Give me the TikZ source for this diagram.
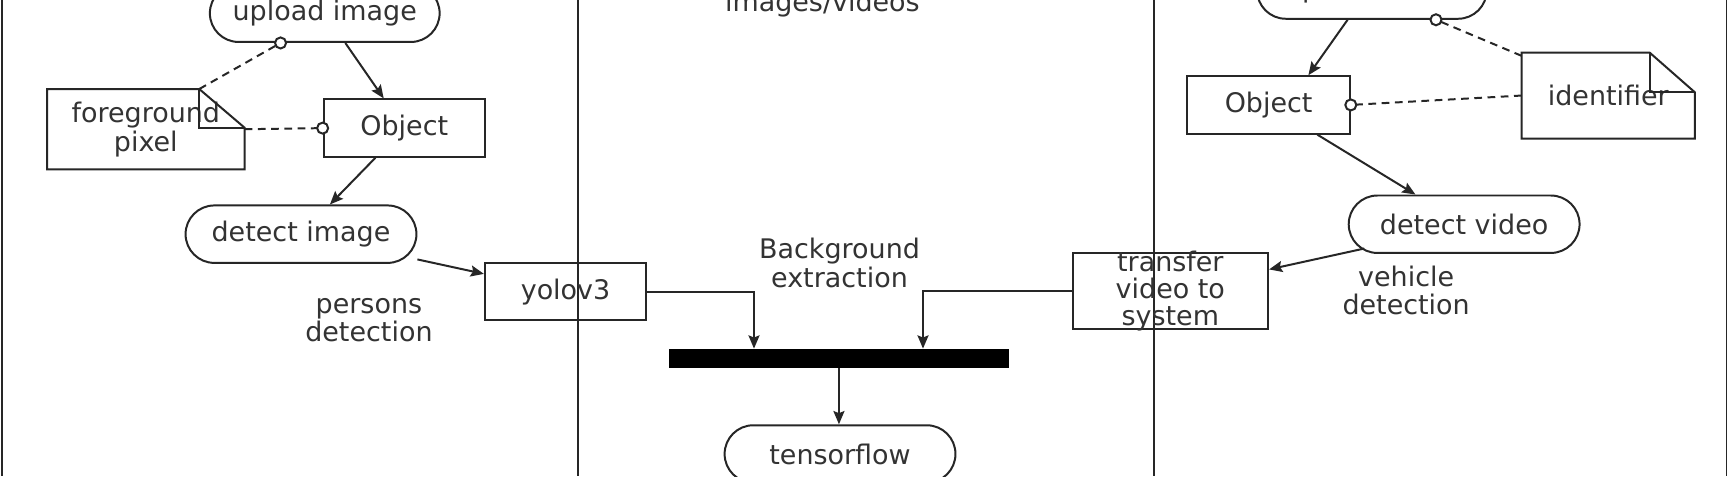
\documentclass[tikz,border=0pt]{standalone}
\usepackage{fontspec}
\setmainfont{DejaVu Sans}
\usetikzlibrary{arrows.meta,calc}
\begin{document}
\begin{tikzpicture}[x=0.5pt,y=-0.5pt,
  font=\fontsize{12.2}{12.5}\selectfont,
  every node/.style={text=black!80},
  ln/.style={line width=0.9pt, draw=black!85},
  term/.style={ln, rectangle, rounded corners=13pt, minimum width=104pt, minimum height=26pt, inner sep=0pt},
  act/.style={ln, rectangle, minimum width=73pt, minimum height=26pt, inner sep=0pt},
  txt/.style={align=center, inner sep=0pt},
  arr/.style={ln, -{Stealth[length=6pt,width=5pt,inset=1pt]}},
  dsh/.style={ln, dash pattern=on 3.5pt off 2.5pt},
  dotc/.style={circle, ln, fill=white, minimum size=5pt, inner sep=0pt},
  lane/.style={line width=0.9pt, draw=black!85},
]
\useasboundingbox (0,0) rectangle (1568,431);
\fill[white] (0,0) rectangle (1568,431);
% swimlane lines
\draw[lane] (2,0) -- (2,431);
\draw[lane] (523,0) -- (523,431);
\draw[lane] (1045,0) -- (1045,431);
\draw[lane] (1563,0) -- (1563,431);

% left lane
\node[term] (up1) at (294,12) {upload image};
\node[txt, font=\fontsize{12.2}{13}\selectfont, minimum width=89pt, minimum height=36pt] (n1) at (132,117) {foreground\\pixel};
\draw[ln] (n1.north west) -- ($(n1.north east)+(-41,0)$) -- ($(n1.north east)+(0,35)$) -- (n1.south east) -- (n1.south west) -- cycle;
\draw[ln] ($(n1.north east)+(-41,0)$) -- ($(n1.north east)+(-41,35)$) -- ($(n1.north east)+(0,35)$);
\node[act] (o1) at (366,116) {Object};
\node[term, minimum width=104.5pt] (d1) at (272.5,212) {detect image};
\node[act] (yo) at (512,264) {yolov3};
\node[txt] (pd) at (334,290) {persons\\detection};

% middle lane
\node[anchor=base, inner sep=0pt] (iv) at (744.5,10.5) {images/videos};
\node[txt, font=\fontsize{12.2}{13}\selectfont] (be) at (760,238) {Background\\extraction};
\node[fill=black, draw=black, minimum width=153.5pt, minimum height=8.5pt, inner sep=0pt] (bar) at (759.5,324.5) {};
\node[term, minimum width=104.5pt] (tf) at (760.5,411) {tensorflow};

% right lane
\node[term] (up2) at (1242,-9) {upload video};
\node[act, minimum width=73.5pt] (o2) at (1148.5,95) {Object};
\node[txt, minimum width=78pt, minimum height=38.5pt] (n2) at (1456,86.5) {identifier};
\draw[ln] (n2.north west) -- ($(n2.north east)+(-41,0)$) -- ($(n2.north east)+(0,36)$) -- (n2.south east) -- (n2.south west) -- cycle;
\draw[ln] ($(n2.north east)+(-41,0)$) -- ($(n2.north east)+(-41,36)$) -- ($(n2.north east)+(0,36)$);
\node[term, minimum width=104.5pt] (d2) at (1325.5,203) {detect video};
\node[act, minimum width=88.5pt, minimum height=34.5pt] (tr) at (1059.5,263.5) {};
\node[txt, font=\fontsize{12.2}{12.25}\selectfont] (trt) at (1059.5,263.5) {transfer\\video to\\system};
\node[txt] (vd) at (1273,263) {vehicle\\detection};

% left connectors
\draw[arr] (up1) -- (o1);
\draw[arr] (o1) -- (d1);
\draw[arr] (d1) -- (yo);
\coordinate (c1) at ($(up1.south)+(-40,0)$);
\draw[dsh] ($(n1.north east)+(-41,0)$) -- (c1);
\draw[dsh] (n1.east) -- (o1.west);
\node[dotc] at (c1) {};
\node[dotc] at (o1.west) {};

% middle connectors
\draw[arr] (yo.east) -| ($(bar.north west)+(77,0)$);
\draw[arr] (tr.west) -| ($(bar.north west)+(230,0)$);
\draw[arr] (bar.south) -- (bar.south |- tf.north);

% right connectors
\draw[arr] ($(up2.south)+(-22,0)$) -- ($(o2.north)+(36,0)$);
\draw[arr] (o2) -- (d2);
\draw[arr] ($(d2.west)+(15,22)$) -- (tr);
\coordinate (c2) at ($(up2.south)+(58,0)$);
\draw[dsh] ($(n2.north west)+(0,3)$) -- (c2);
\draw[dsh] (n2.west) -- (o2.east);
\node[dotc] at (c2) {};
\node[dotc] at (o2.east) {};
\end{tikzpicture}
\end{document}
